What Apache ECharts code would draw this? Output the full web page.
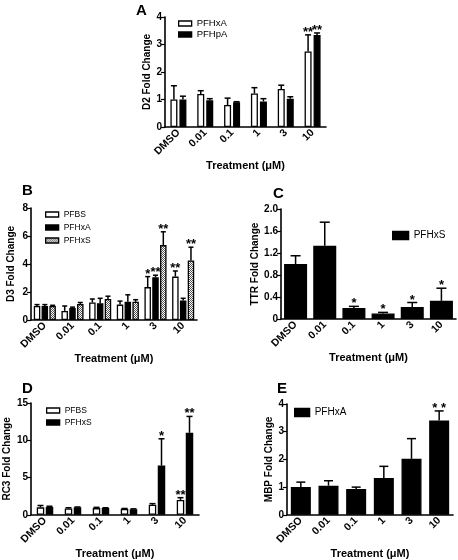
<!DOCTYPE html>
<html><head><meta charset="utf-8">
<script src="https://cdn.jsdelivr.net/npm/echarts@6/dist/echarts.min.js"></script>
<style>html,body{margin:0;padding:0;background:#fff}#c{width:458px;height:560px}</style>
</head><body><div id="c"></div>
<script>
const categories = ['DMSO','0.01','0.1','1','3','10'];
// Panel A: D2
const aPFHxA = [1.0,1.2,0.8,1.22,1.38,2.75];
const aPFHxAErr = [0.5,0.12,0.25,0.21,0.14,0.6];
const aPFHxASig = ['','','','','','**'];
const aPFHpA = [1.0,0.97,0.9,0.93,1.03,3.35];
const aPFHpAErr = [0.12,0.06,0.02,0.1,0.07,0.07];
const aPFHpASig = ['','','','','','**'];
// Panel B: D3
const bPFBS = [1.0,0.65,1.25,1.1,2.35,3.1];
const bPFBSErr = [0.1,0.35,0.25,0.25,0.75,0.4];
const bPFBSSig = ['','','','','*','**'];
const bPFHxA = [1.0,0.85,1.2,1.3,3.05,1.4];
const bPFHxAErr = [0.1,0.07,0.35,0.5,0.15,0.15];
const bPFHxASig = ['','','','','**',''];
const bPFHxS = [1.0,1.15,1.5,1.3,5.35,4.25];
const bPFHxSErr = [0.05,0.1,0.2,0.15,0.95,0.95];
const bPFHxSSig = ['','','','','**','**'];
// Panel C: TTR
const cPFHxS = [1.0,1.33,0.2,0.1,0.22,0.33];
const cPFHxSErr = [0.15,0.43,0.03,0.02,0.08,0.23];
const cPFHxSSig = ['','','*','*','*','*'];
// Panel D: RC3
const dPFBS = [1.0,0.85,0.9,0.8,1.35,2.0];
const dPFBSErr = [0.25,0.1,0.1,0.05,0.15,0.3];
const dPFBSSig = ['','','','','','**'];
const dPFHxS = [1.05,1.0,0.9,0.75,6.6,11.0];
const dPFHxSErr = [0.1,0.05,0.05,0.05,3.6,2.2];
const dPFHxSSig = ['','','','','*','**'];
// Panel E: MBP
const ePFHxA = [1.0,1.05,0.93,1.33,2.02,3.4];
const ePFHxAErr = [0.18,0.18,0.07,0.42,0.73,0.35];
const ePFHxASig = ['','','','','','* *'];

const FONT = 'Liberation Sans, Arial, sans-serif';

// fine grey checker hatch
const pc = document.createElement('canvas');
pc.width = 2; pc.height = 2;
const px = pc.getContext('2d');
px.fillStyle = '#fff'; px.fillRect(0,0,2,2);
px.fillStyle = '#555';
px.fillRect(0,0,1,1); px.fillRect(1,1,1,1);
const hatch = {image: pc, repeat: 'repeat'};

const styles = {
  white: {color:'#fff', borderColor:'#000', borderWidth:1.3},
  black: {color:'#000', borderColor:'#000', borderWidth:1.3},
  hatch: {color:hatch, borderColor:'#000', borderWidth:1.3}
};

const panels = [
  {grid:{left:165,top:17,width:161,height:110}, max:4, interval:1, yname:'D2 Fold Change', ynameGap:13, xnameGap:31,
   w:7, g:2, cap:6, letter:'A', lx:136, ly:3, legend:{left:178,top:18,itemWidth:13,itemHeight:5,fs:9.5,gap:0},
   series:[['PFHxA',aPFHxA,aPFHxAErr,aPFHxASig,'white'],['PFHpA',aPFHpA,aPFHpAErr,aPFHpASig,'black']]},
  {grid:{left:31,top:208,width:166,height:112}, max:8, interval:2, yname:'D3 Fold Change', ynameGap:15, xnameGap:28,
   w:6.5, g:1.3, cap:5, letter:'B', lx:22, ly:183, legend:{left:45,top:209,itemWidth:13,itemHeight:5,fs:8.5,gap:2},
   series:[['PFBS',bPFBS,bPFBSErr,bPFBSSig,'white'],['PFHxA',bPFHxA,bPFHxAErr,bPFHxASig,'black'],['PFHxS',bPFHxS,bPFHxSErr,bPFHxSSig,'hatch']]},
  {grid:{left:281,top:209,width:175,height:110}, max:2, interval:0.4, yname:'TTR Fold Change', ynameGap:20, xnameGap:28, dec:true,
   w:23, g:0, cap:10, letter:'C', lx:273, ly:186, legend:{left:392,top:230,itemWidth:16,itemHeight:8,fs:10,gap:0},
   series:[['PFHxS',cPFHxS,cPFHxSErr,cPFHxSSig,'black']]},
  {grid:{left:31,top:403,width:168,height:112}, max:15, interval:5, yname:'RC3 Fold Change', ynameGap:19, xnameGap:33,
   w:7.5, g:1.5, cap:6, letter:'D', lx:22, ly:381, legend:{left:46,top:405,itemWidth:13,itemHeight:5,fs:8.5,gap:1},
   series:[['PFBS',dPFBS,dPFBSErr,dPFBSSig,'white'],['PFHxS',dPFHxS,dPFHxSErr,dPFHxSSig,'black']]},
  {grid:{left:287,top:404,width:166,height:111}, max:4, interval:1, yname:'MBP Fold Change', ynameGap:13, xnameGap:33,
   w:20, g:0, cap:9, letter:'E', lx:277, ly:381, legend:{left:294,top:407,itemWidth:15,itemHeight:8,fs:10,gap:0},
   series:[['PFHxA',ePFHxA,ePFHxAErr,ePFHxASig,'black']]}
];

const option = {animation:false, backgroundColor:'#fff', textStyle:{fontFamily:FONT},
  grid:[], xAxis:[], yAxis:[], series:[], legend:[], title:[]};

panels.forEach((p, pi) => {
  const uniq = '\u200b'.repeat(pi); // keep series names unique per panel
  option.grid.push(p.grid);
  option.title.push({text:p.letter, left:p.lx, top:p.ly, padding:0,
    textStyle:{fontFamily:FONT, fontSize:15, fontWeight:'bold', color:'#000'}});
  option.xAxis.push({type:'category', gridIndex:pi, data:categories,
    name:'Treatment (μM)', nameLocation:'middle', nameGap:p.xnameGap,
    nameTextStyle:{fontFamily:FONT, fontSize:11, fontWeight:'bold', color:'#000'},
    axisLine:{lineStyle:{color:'#000', width:1.6}},
    axisTick:{alignWithLabel:true, length:3, lineStyle:{color:'#000', width:1.2}},
    axisLabel:{rotate:45, margin:4, interval:0, fontFamily:FONT, fontSize:10.5, fontWeight:'bold', color:'#000'},
    splitLine:{show:false}});
  option.yAxis.push({type:'value', gridIndex:pi, min:0, max:p.max, interval:p.interval,
    name:p.yname, nameLocation:'middle', nameGap:p.ynameGap,
    nameTextStyle:{fontFamily:FONT, fontSize:10, fontWeight:'bold', color:'#000'},
    axisLine:{show:true, lineStyle:{color:'#000', width:1.6}},
    axisTick:{show:true, length:4, lineStyle:{color:'#000', width:1.2}},
    axisLabel:{margin:3, fontFamily:FONT, fontSize:10, fontWeight:'bold', color:'#000',
      formatter: v => p.dec ? (v === 0 ? '0' : v.toFixed(1)) : String(v)},
    splitLine:{show:false}});
  const n = p.series.length;
  const names = [];
  p.series.forEach((s, si) => {
    const [label, means, errs, sig, st] = s;
    const name = label + uniq;
    names.push(name);
    option.series.push({type:'bar', name:name, xAxisIndex:pi, yAxisIndex:pi,
      data:means, barWidth:p.w, barGap:(p.g/p.w*100)+'%', itemStyle:styles[st], z:3});
    option.series.push({type:'custom', name:name+'_err', xAxisIndex:pi, yAxisIndex:pi, z:2,
      data:means.map((m,i)=>[i, m, m+errs[i]]),
      renderItem:(params, api) => {
        const c = api.coord([api.value(0), api.value(1)]);
        const t = api.coord([api.value(0), api.value(2)]);
        const total = n*p.w + (n-1)*p.g;
        const x = c[0] - total/2 + si*(p.w+p.g) + p.w/2;
        const ls = {stroke:'#000', lineWidth:1.5};
        const children = [
          {type:'line', shape:{x1:x, y1:c[1], x2:x, y2:t[1]}, style:ls},
          {type:'line', shape:{x1:x-p.cap/2, y1:t[1], x2:x+p.cap/2, y2:t[1]}, style:ls}
        ];
        const sg = sig[params.dataIndex];
        if (sg) children.push({type:'text', x:x, y:t[1]+4,
          style:{text:sg, fontFamily:FONT, fontSize:13, fontWeight:'bold', fill:'#000', align:'center', verticalAlign:'bottom'}});
        return {type:'group', children};
      }});
  });
  option.legend.push({orient:'vertical', left:p.legend.left, top:p.legend.top, padding:0,
    itemWidth:p.legend.itemWidth, itemHeight:p.legend.itemHeight, itemGap:p.legend.gap,
    data:names.map(nm => ({name:nm, icon:'rect'})), selectedMode:false,
    itemStyle:{borderColor:'#000', borderWidth:1.3},
    textStyle:{fontFamily:FONT, fontSize:p.legend.fs, lineHeight:11, color:'#000'}});
});

const chart = echarts.init(document.getElementById('c'), null, {renderer:'canvas'});
chart.setOption(option);
</script></body></html>
